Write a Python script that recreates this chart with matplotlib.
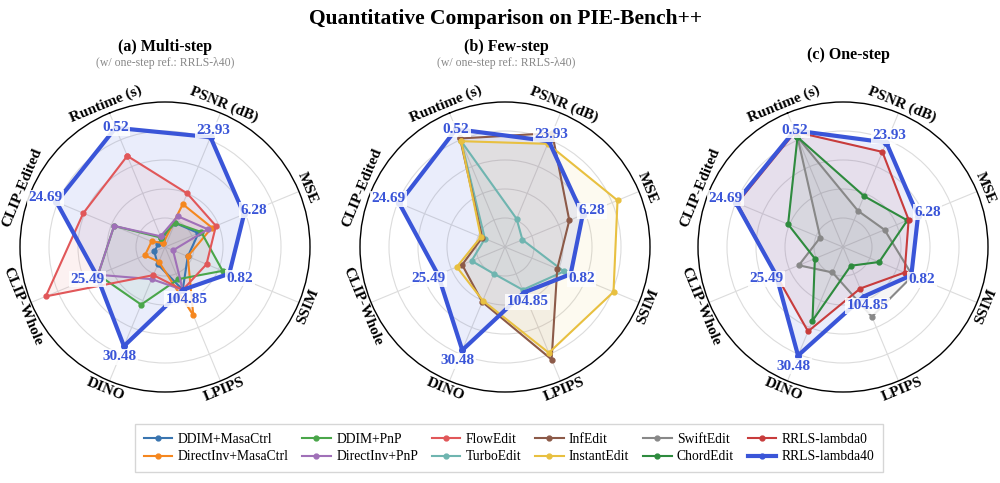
import numpy as np
import matplotlib
matplotlib.use('Agg')
import matplotlib.pyplot as plt
from matplotlib.lines import Line2D

plt.rcParams['font.family'] = ['Liberation Serif', 'DejaVu Serif']

# axes of the radar, clockwise from top-left
metrics = ['Runtime (s)', 'PSNR (dB)', 'MSE', 'SSIM', 'LPIPS', 'DINO', 'CLIP-Whole', 'CLIP-Edited']
# raw values printed at the RRLS-lambda40 vertices
lam40_text = ['0.52', '23.93', '6.28', '0.82', '104.85', '30.48', '25.49', '24.69']

# normalised scores (outer ring = 1)
# (a) multi-step
ddim_masactrl      = [0.06, 0.18, 0.25, 0.17, 0.32, 0.13, 0.08, 0.05]
directinv_masactrl = [0.03, 0.32, 0.35, 0.17, 0.51, 0.11, 0.15, 0.10]
ddim_pnp           = [0.07, 0.18, 0.27, 0.43, 0.24, 0.43, 0.50, 0.38]
directinv_pnp      = [0.08, 0.23, 0.32, 0.06, 0.32, 0.24, 0.50, 0.38]
flowedit           = [0.68, 0.40, 0.38, 0.31, 0.32, 0.21, 0.89, 0.61]
lam40_a            = [0.89, 0.82, 0.59, 0.48, 0.32, 0.74, 0.51, 0.81]
# (b) few-step
turboedit          = [0.79, 0.21, 0.13, 0.44, 0.32, 0.20, 0.25, 0.15]
infedit            = [0.81, 0.85, 0.48, 0.39, 0.84, 0.41, 0.32, 0.17]
instantedit        = [0.79, 0.77, 0.84, 0.81, 0.79, 0.40, 0.36, 0.18]
lam40_b            = [0.88, 0.79, 0.58, 0.49, 0.34, 0.77, 0.50, 0.79]
# (c) one-step
swiftedit          = [0.82, 0.27, 0.31, 0.52, 0.52, 0.19, 0.33, 0.17]
chordedit          = [0.82, 0.38, 0.48, 0.27, 0.14, 0.55, 0.21, 0.41]
rrls_lambda0       = [0.86, 0.71, 0.49, 0.46, 0.31, 0.63, 0.50, 0.79]
lam40_c            = [0.87, 0.78, 0.56, 0.51, 0.37, 0.81, 0.50, 0.80]

colors = {
    'DDIM+MasaCtrl': '#3a75b0', 'DirectInv+MasaCtrl': '#f5871f',
    'DDIM+PnP': '#4aa64a', 'DirectInv+PnP': '#a070b8',
    'FlowEdit': '#e15759', 'TurboEdit': '#6fb5b0',
    'InfEdit': '#8c5a48', 'InstantEdit': '#e8c040',
    'SwiftEdit': '#888888', 'ChordEdit': '#2e8b3e',
    'RRLS-lambda0': '#c83c3c', 'RRLS-lambda40': '#3a55d8',
}

panels = [
    ('(a) Multi-step', True, [('DDIM+MasaCtrl', ddim_masactrl), ('DirectInv+MasaCtrl', directinv_masactrl),
                              ('DDIM+PnP', ddim_pnp), ('DirectInv+PnP', directinv_pnp),
                              ('FlowEdit', flowedit)], lam40_a),
    ('(b) Few-step', True, [('TurboEdit', turboedit), ('InfEdit', infedit),
                            ('InstantEdit', instantedit)], lam40_b),
    ('(c) One-step', False, [('SwiftEdit', swiftedit), ('ChordEdit', chordedit),
                             ('RRLS-lambda0', rrls_lambda0)], lam40_c),
]

N = len(metrics)
theta = np.arange(N) * 2 * np.pi / N
theta_c = np.append(theta, theta[0])
label_off = [0.0, 0.05, 0.07, 0.08, 0.07, 0.08, 0.07, 0.08]

fig = plt.figure(figsize=(10, 4.83), dpi=100)
fig.text(0.506, 1 - 19 / 483, 'Quantitative Comparison on PIE-Bench++', ha='center', va='center',
         fontsize=15.5, fontweight='bold')

centers_x = [165, 505, 843]
title_x = [165, 506, 848]
cy = 247
R = 145
for k, (title, sub, series, lam40) in enumerate(panels):
    ax = fig.add_axes([(centers_x[k] - R) / 1000, (483 - cy - R) / 483, 2 * R / 1000, 2 * R / 483],
                      projection='polar')
    ax.set_theta_offset(np.pi / 2 + np.pi / 8)
    ax.set_theta_direction(-1)
    ax.set_ylim(0, 1)
    ax.set_xticks(theta)
    ax.set_xticklabels([])
    ax.set_rgrids([0.2, 0.4, 0.6, 0.8], labels=[])
    ax.grid(color='#dcdcdc', lw=0.8)
    ax.spines['polar'].set_color('black')
    ax.spines['polar'].set_linewidth(1.0)

    for name, vals in series:
        v = np.append(vals, vals[0])
        ax.plot(theta_c, v, color=colors[name], lw=1.5, marker='o', ms=3.5, zorder=3)
        ax.fill(theta_c, v, color=colors[name], alpha=0.08, zorder=2)
    v = np.append(lam40, lam40[0])
    ax.plot(theta_c, v, color=colors['RRLS-lambda40'], lw=3, marker='o', ms=4, zorder=4)
    ax.fill(theta_c, v, color=colors['RRLS-lambda40'], alpha=0.1, zorder=2)

    for i in range(N):
        ax.text(theta[i], lam40[i] + label_off[i], lam40_text[i], ha='center', va='center',
                fontsize=11, fontweight='bold', color=colors['RRLS-lambda40'], zorder=6,
                bbox=dict(boxstyle='square,pad=0.1', fc='white', ec='none', alpha=0.85))
        ang = 112.5 - 45 * i
        rot = ((ang - 90 + 90) % 180) - 90
        ax.text(theta[i], 1.065, metrics[i], ha='center', va='center', rotation=rot,
                rotation_mode='anchor', fontsize=11, fontweight='bold', clip_on=False)

    tx = title_x[k] / 1000
    if sub:
        fig.text(tx, 1 - 47 / 483, title, ha='center', va='center', fontsize=11.5, fontweight='bold')
        fig.text(tx, 1 - 63 / 483, u'(w/ one-step ref.: RRLS-\u03bb40)', ha='center', va='center',
                 fontsize=8.5, color='#888888')
    else:
        fig.text(tx, 1 - 55 / 483, title, ha='center', va='center', fontsize=11.5, fontweight='bold')

order = ['DDIM+MasaCtrl', 'DirectInv+MasaCtrl', 'DDIM+PnP', 'DirectInv+PnP', 'FlowEdit', 'TurboEdit',
         'InfEdit', 'InstantEdit', 'SwiftEdit', 'ChordEdit', 'RRLS-lambda0', 'RRLS-lambda40']
handles = [Line2D([], [], color=colors[n], lw=3 if n == 'RRLS-lambda40' else 1.5, marker='o',
                  ms=3.5) for n in order]
fig.legend(handles, order, loc='center', bbox_to_anchor=(0.509, 1 - 448 / 483), ncol=6,
           fontsize=9.8, frameon=True, edgecolor='#cccccc', fancybox=False,
           handlelength=2.1, columnspacing=1.0, handletextpad=0.4, borderpad=0.6,
           labelspacing=0.35)

fig.savefig('out.png', dpi=100)
